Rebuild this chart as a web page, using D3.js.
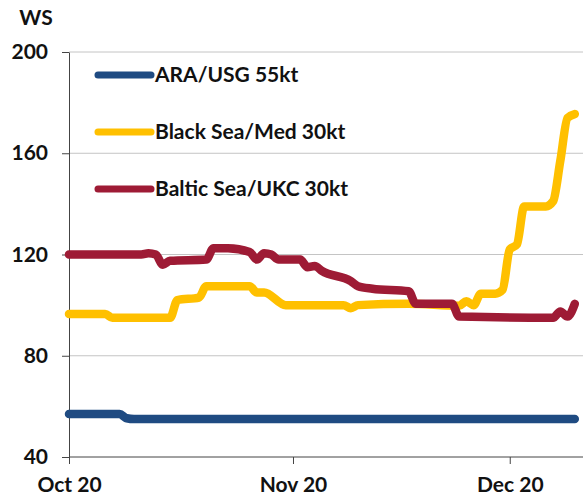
<!DOCTYPE html>
<html>
<head>
<meta charset="utf-8">
<script src="https://cdn.jsdelivr.net/npm/d3@7"></script>
<style>
  body { margin: 0; background: #fff; }
  text { font-family: Lato, "Open Sans", sans-serif; font-weight: bold; fill: #111; }
</style>
</head>
<body>
<div id="chart"></div>
<script>
// series names and colours
var seriesNames = ["ARA/USG 55kt", "Black Sea/Med 30kt", "Baltic Sea/UKC 30kt"];
var seriesColors = ["#1f4b82", "#ffc000", "#9e1b35"];

// ARA/USG 55kt
var araDates = ["2020-10-01", "2020-10-08", "2020-10-09", "2020-10-10", "2020-12-10"];
var araValues = [57, 57, 55.3, 55, 55];

// Black Sea/Med 30kt
var bsDates = ["2020-10-01", "2020-10-06", "2020-10-07", "2020-10-15", "2020-10-16", "2020-10-19",
  "2020-10-20", "2020-10-26", "2020-10-27", "2020-10-28", "2020-10-31", "2020-11-08", "2020-11-09",
  "2020-11-10", "2020-11-17", "2020-11-24", "2020-11-25", "2020-11-26", "2020-11-27", "2020-11-29",
  "2020-11-30", "2020-12-01", "2020-12-02", "2020-12-03", "2020-12-06", "2020-12-07", "2020-12-08",
  "2020-12-09", "2020-12-10"];
var bsValues = [96.5, 96.5, 95, 95, 102, 103,
  107.5, 107.5, 105, 105, 100, 100, 98.8,
  100, 100.5, 99.8, 101.5, 100, 104.5, 104.5,
  106, 122, 124, 139, 139, 141, 157,
  174, 175.5];

// Baltic Sea/UKC 30kt
var balDates = ["2020-10-01", "2020-10-11", "2020-10-12", "2020-10-13", "2020-10-14", "2020-10-15",
  "2020-10-20", "2020-10-21", "2020-10-23", "2020-10-26", "2020-10-27", "2020-10-28", "2020-10-29",
  "2020-10-30", "2020-11-02", "2020-11-03", "2020-11-04", "2020-11-05", "2020-11-09", "2020-11-10",
  "2020-11-12", "2020-11-17", "2020-11-18", "2020-11-23", "2020-11-24", "2020-12-07", "2020-12-08",
  "2020-12-09", "2020-12-10"];
var balValues = [120, 120, 120.5, 120, 116, 117.5,
  118, 122.5, 122.5, 121, 118, 120.5, 120,
  118, 118, 115, 115.5, 113.5, 109.5, 107.5,
  106.5, 105.5, 100.5, 100.5, 95.5, 95, 97.5,
  95.5, 100.5];

// axis ticks
var yTicks = [40, 80, 120, 160, 200];
var xTicks = ["2020-10-01", "2020-11-01", "2020-12-01"];
var xTickLabels = ["Oct 20", "Nov 20", "Dec 20"];

var width = 583, height = 499;
var parse = d3.timeParse("%Y-%m-%d");

var series = [
  { name: seriesNames[0], color: seriesColors[0], dates: araDates, values: araValues },
  { name: seriesNames[1], color: seriesColors[1], dates: bsDates, values: bsValues },
  { name: seriesNames[2], color: seriesColors[2], dates: balDates, values: balValues }
];

var svg = d3.select("#chart").append("svg")
  .attr("width", width)
  .attr("height", height);

var x = d3.scaleTime()
  .domain([parse("2020-10-01"), parse("2020-12-11")])
  .range([69, 582]);

var y = d3.scaleLinear()
  .domain([40, 200])
  .range([457, 52]);

// gridlines
svg.append("g")
  .selectAll("line")
  .data(yTicks.slice(1))
  .enter().append("line")
  .attr("x1", 69).attr("x2", width)
  .attr("y1", function(d) { return y(d); })
  .attr("y2", function(d) { return y(d); })
  .attr("stroke", "#c4c4c4")
  .attr("stroke-width", 1);

// y axis
var yAxis = svg.append("g")
  .attr("transform", "translate(69,0)")
  .call(d3.axisLeft(y).tickValues(yTicks).tickSize(7).tickPadding(14).tickSizeOuter(0));
yAxis.select(".domain").attr("stroke", "#444");
yAxis.selectAll(".tick line").attr("stroke", "#444");
yAxis.selectAll("text").style("font-size", "21px").attr("fill", "#111");

// x axis
var xAxis = svg.append("g")
  .attr("transform", "translate(0,457)")
  .call(d3.axisBottom(x).tickValues(xTicks.map(parse)).tickSize(7).tickPadding(13).tickSizeOuter(0)
    .tickFormat(function(d, i) { return xTickLabels[i]; }));
xAxis.select(".domain").attr("stroke", "#444").attr("d", "M69,0H" + width);
xAxis.selectAll(".tick line").attr("stroke", "#444");
xAxis.selectAll("text").style("font-size", "21px").attr("fill", "#111");

// unit label
svg.append("text")
  .attr("x", 36).attr("y", 25)
  .attr("text-anchor", "middle")
  .style("font-size", "21px")
  .text("WS");

// lines
var line = d3.line()
  .x(function(d) { return x(d.date); })
  .y(function(d) { return y(d.value); })
  .curve(d3.curveMonotoneX);

series.forEach(function(s) {
  var pts = s.dates.map(function(d, i) { return { date: parse(d), value: s.values[i] }; });
  svg.append("path")
    .datum(pts)
    .attr("d", line)
    .attr("fill", "none")
    .attr("stroke", s.color)
    .attr("stroke-width", 8.5)
    .attr("stroke-linecap", "round")
    .attr("stroke-linejoin", "round");
});

// legend
var legend = svg.append("g");
series.forEach(function(s, i) {
  var ly = 75 + i * 57;
  legend.append("line")
    .attr("x1", 98).attr("x2", 151)
    .attr("y1", ly).attr("y2", ly)
    .attr("stroke", s.color)
    .attr("stroke-width", 7)
    .attr("stroke-linecap", "round");
  legend.append("text")
    .attr("x", 155).attr("y", ly)
    .attr("dy", "0.35em")
    .style("font-size", "21px")
    .text(s.name);
});
</script>
</body>
</html>
